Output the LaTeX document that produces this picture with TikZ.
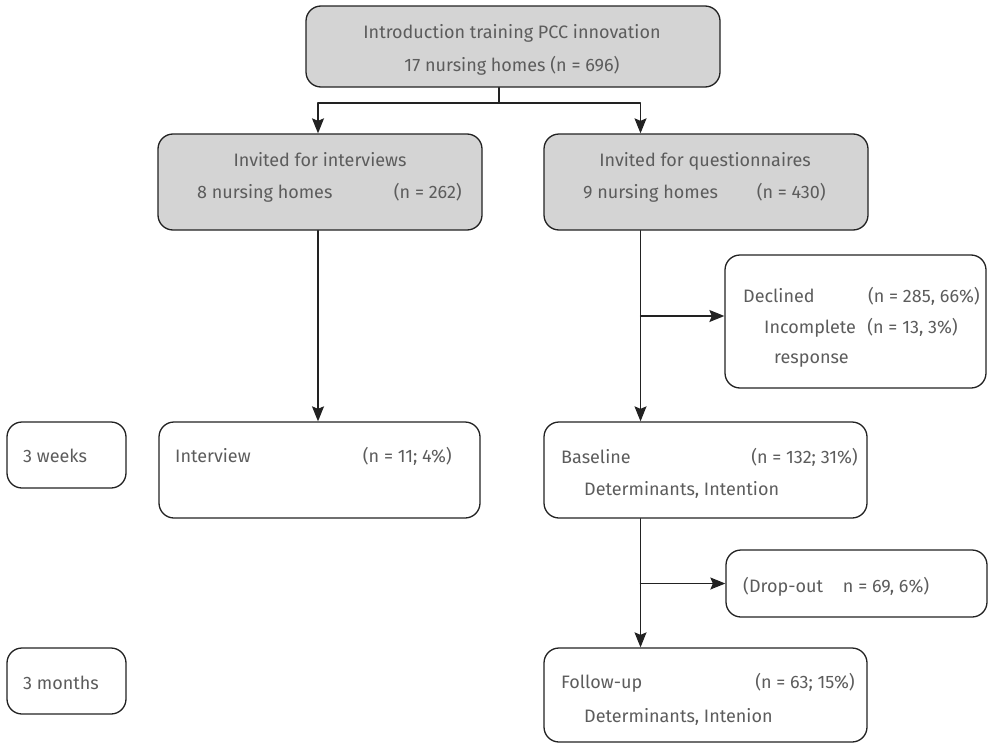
\documentclass[tikz,border=0pt]{standalone}
\usepackage{fontspec}
\setmainfont{Fira Sans}
\usepackage{tikz}
\usetikzlibrary{calc}
\usetikzlibrary{arrows.meta}
\usetikzlibrary{positioning}
\definecolor{boxfill}{HTML}{D4D4D4}
\definecolor{linec}{HTML}{222222}
\definecolor{txtc}{HTML}{5C5C5C}

\tikzset{
  flowbox/.style={draw=linec, line width=1.3pt, rounded corners=15pt, inner sep=0pt},
  greybox/.style={flowbox, fill=boxfill},
  lbl/.style={anchor=base west, inner sep=0pt, text=txtc, font=\fontsize{18}{21}\selectfont},
  clbl/.style={lbl, anchor=base},
  rlbl/.style={lbl, anchor=base east},
}

\begin{document}
\begin{tikzpicture}[x=1pt, y=-1pt, line cap=round, line join=round,
    >={Stealth[length=15pt, width=12pt, inset=2.5pt]}]
  \useasboundingbox (0,0) rectangle (988,744);
  %--- boxes
    \node[greybox, minimum width=414pt, minimum height=81pt] (top) at (513,46.5) {};
    \node[greybox, minimum width=324pt, minimum height=96pt] (inv) at (320,182) {};
    \node[greybox, minimum width=324pt, minimum height=96pt] (qst) at (706,182) {};
    \node[flowbox, minimum width=261pt, minimum height=133pt] (dcl) at (855.5,321.5) {};
    \node[flowbox, minimum width=119pt, minimum height=66pt] (wk3) at (66.5,455) {};
    \node[flowbox, minimum width=321pt, minimum height=96pt] (itv) at (319.5,470) {};
    \node[flowbox, minimum width=323pt, minimum height=96pt] (bsl) at (705.5,470) {};
    \node[flowbox, minimum width=261pt, minimum height=67pt] (drp) at (856.5,583.5) {};
    \node[flowbox, minimum width=119pt, minimum height=66pt] (mo3) at (66.5,681) {};
    \node[flowbox, minimum width=323pt, minimum height=94pt] (fup) at (705.5,695) {};
  %--- texts
    \node[clbl] (topa) at (512,38) {Introduction training PCC innovation};
    \node[clbl] (topb) at (512,71) {17 nursing homes (n = 696)};
    \node[clbl] (inva) at (320,166) {Invited for interviews};
    \node[lbl] (invb) at (197,198) {8 nursing homes};
    \node[rlbl] (invc) at (462,198) {(n = 262)};
    \node[clbl] (qsta) at (705,166) {Invited for questionnaires};
    \node[lbl] (qstb) at (583,198) {9 nursing homes};
    \node[rlbl] (qstc) at (826,198) {(n = 430)};
    \node[lbl] (dcla) at (743,302) {Declined};
    \node[rlbl] (dclb) at (980,302) {(n = 285, 66\%)};
    \node[lbl] (dclc) at (764,333) {Incomplete};
    \node[rlbl] (dcld) at (958,333) {(n = 13, 3\%)};
    \node[lbl] (dcle) at (774,363) {response};
    \node[lbl] (wk3a) at (23,462) {3 weeks};
    \node[lbl] (itva) at (175,462) {Interview};
    \node[rlbl] (itvb) at (452,462) {(n = 11; 4\%)};
    \node[lbl] (bsla) at (561,463) {Baseline};
    \node[rlbl] (bslb) at (858,463) {(n = 132; 31\%)};
    \node[lbl] (bslc) at (584,495) {Determinants, Intention};
    \node[lbl] (drpa) at (743,592) {(Drop-out\hspace{20pt}n = 69, 6\%)};
    \node[lbl] (mo3a) at (23,689) {3 months};
    \node[lbl] (fupa) at (561,688) {Follow-up};
    \node[rlbl] (fupb) at (855,688) {(n = 63; 15\%)};
    \node[lbl] (fupc) at (584,722) {Determinants, Intenion};
  %--- connectors
    \coordinate (split) at (499,103);
    \coordinate (qcol) at (640.5,0);
    \draw[line width=1.3pt, draw=linec] (top.south -| split) -- (split);
    \draw[->, line width=1.3pt, draw=linec] (split) -| ($(inv.north)+(-2,0)$);
    \draw[->, line width=1.3pt, draw=linec] (split) -| (qst.north -| qcol);
    \draw[->, line width=1.3pt, draw=linec] ($(inv.south)+(-2,0)$) -- ($(itv.north)+(-1.5,0)$);
    \draw[->, line width=1.3pt, draw=linec] (qst.south -| qcol) -- (bsl.north -| qcol);
    \draw[->, line width=1.3pt, draw=linec] ($(qcol |- dcl.west)+(0,-5.5)$) -- ($(dcl.west)+(0,-5.5)$);
    \draw[->, line width=1.3pt, draw=linec] (bsl.south -| qcol) -- (fup.north -| qcol);
    \draw[->, line width=1.3pt, draw=linec] (qcol |- drp.west) -- (drp.west);
\end{tikzpicture}
\end{document}
